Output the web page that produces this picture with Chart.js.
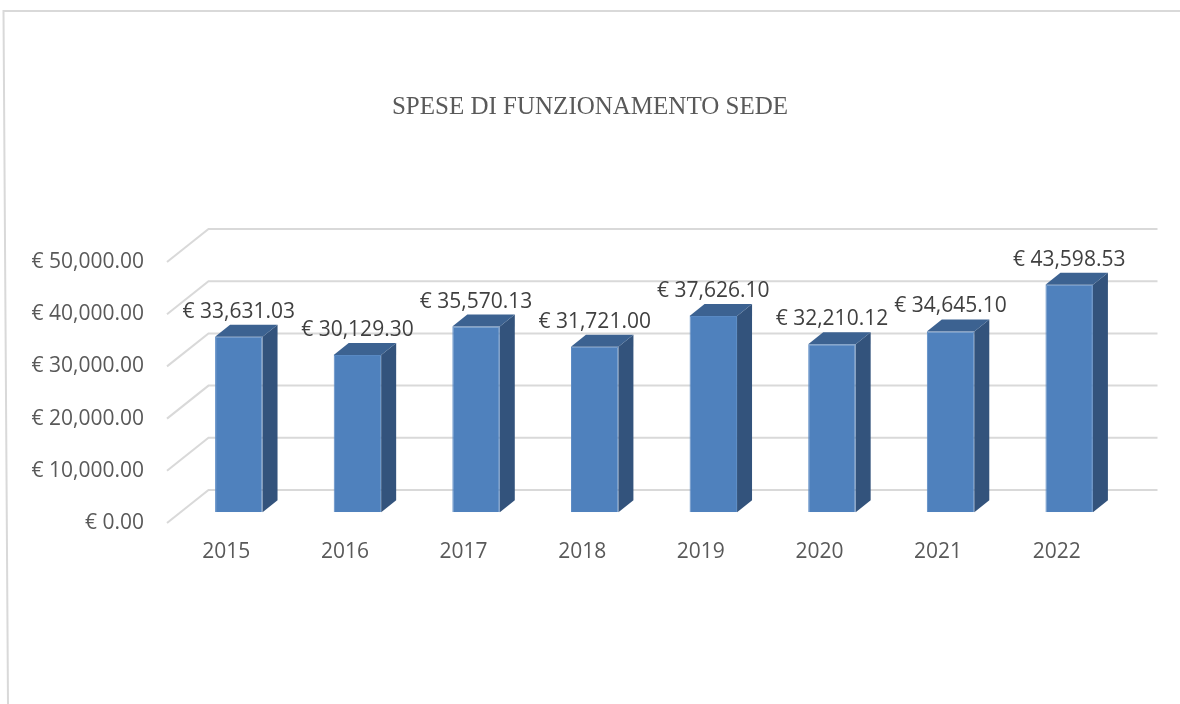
<!DOCTYPE html>
<html>
<head>
<meta charset="utf-8">
<script src="https://cdn.jsdelivr.net/npm/chart.js@4.4.0/dist/chart.umd.min.js"></script>
<style>
  html, body { margin: 0; padding: 0; background: #fff; }
  #wrap { width: 1180px; height: 704px; }
</style>
</head>
<body>
<div id="wrap"><canvas id="myChart" width="1180" height="704"></canvas></div>
<script>
const years = ['2015', '2016', '2017', '2018', '2019', '2020', '2021', '2022'];
const spese = [33631.03, 30129.30, 35570.13, 31721.00, 37626.10, 32210.12, 34645.10, 43598.53];
const yTicksMax = 50000;
const yTickStep = 10000;

const euro = v => '€ ' + Number(v).toLocaleString('en-US', { minimumFractionDigits: 2, maximumFractionDigits: 2 });

// perspective offsets
const wall = { dx: 41.5, dy: -33 };   // floor front edge -> back wall
const shift = { dx: 12.5, dy: -10.7 }; // floor front edge -> bar front face
const depth = { dx: 15, dy: -12 };    // bar thickness

const frame3d = {
  id: 'frame3d',
  beforeDraw(chart) {
    const c = chart.ctx;
    c.save();
    c.fillStyle = '#fff';
    c.fillRect(0, 0, chart.width, chart.height);
    c.strokeStyle = '#d9d9d9';
    c.lineWidth = 2;
    c.beginPath();
    c.moveTo(1180, 11);
    c.lineTo(3.5, 11);
    c.lineTo(8, 704);
    c.stroke();
    c.restore();
  },
  beforeDatasetsDraw(chart) {
    const c = chart.ctx;
    const y = chart.scales.y;
    const a = chart.chartArea;
    c.save();
    c.strokeStyle = '#d9d9d9';
    c.lineWidth = 2;
    y.ticks.forEach(t => {
      const py = y.getPixelForValue(t.value);
      c.beginPath();
      c.moveTo(a.left, py);
      c.lineTo(a.left + wall.dx, py + wall.dy);
      c.lineTo(a.right + wall.dx, py + wall.dy);
      c.stroke();
    });
    c.restore();
    c.save();
    c.translate(shift.dx, shift.dy);
  },
  afterDatasetsDraw(chart) {
    const c = chart.ctx;
    const meta = chart.getDatasetMeta(0);
    meta.data.forEach(bar => {
      const p = bar.getProps(['x', 'y', 'base', 'width'], true);
      const xl = p.x - p.width / 2, xr = p.x + p.width / 2;
      // side
      c.fillStyle = '#33537c';
      c.beginPath();
      c.moveTo(xr, p.y);
      c.lineTo(xr + depth.dx, p.y + depth.dy);
      c.lineTo(xr + depth.dx, p.base + depth.dy);
      c.lineTo(xr, p.base);
      c.closePath();
      c.fill();
      // top
      c.fillStyle = '#3c6291';
      c.beginPath();
      c.moveTo(xl, p.y);
      c.lineTo(xl + depth.dx, p.y + depth.dy);
      c.lineTo(xr + depth.dx, p.y + depth.dy);
      c.lineTo(xr, p.y);
      c.closePath();
      c.fill();
    });
    c.restore();
    // data labels
    c.save();
    c.font = '21px "Open Sans"';
    c.fillStyle = '#404040';
    c.textAlign = 'center';
    c.textBaseline = 'middle';
    meta.data.forEach((bar, i) => {
      c.fillText(euro(spese[i]), bar.x + shift.dx, bar.y + shift.dy - 25);
    });
    c.restore();
  }
};

new Chart(document.getElementById('myChart'), {
  type: 'bar',
  data: {
    labels: years,
    datasets: [{
      label: 'Spese di funzionamento sede',
      data: spese,
      backgroundColor: '#4f81bd',
      borderColor: '#5989c3',
      borderWidth: 1,
      categoryPercentage: 1,
      barPercentage: 0.4
    }]
  },
  options: {
    responsive: false,
    animation: false,
    layout: { padding: 0 },
    plugins: {
      legend: { display: false },
      tooltip: { enabled: false },
      title: {
        display: true,
        text: 'SPESE DI FUNZIONAMENTO SEDE',
        color: '#595959',
        font: { family: '"Liberation Serif"', size: 25, weight: 'normal' },
        padding: { top: 92, bottom: 140 }
      }
    },
    scales: {
      x: {
        grid: { display: false, drawTicks: false },
        border: { display: false },
        ticks: { color: '#595959', font: { family: '"Open Sans"', size: 21 }, padding: 16 },
        afterFit: s => { s.height = 181; }
      },
      y: {
        min: 0,
        max: yTicksMax,
        grid: { display: false, drawTicks: false },
        border: { display: false },
        ticks: {
          stepSize: yTickStep,
          color: '#595959',
          font: { family: '"Open Sans"', size: 21 },
          padding: 23,
          callback: v => euro(v)
        },
        afterFit: s => { s.width = 167; }
      },
      yRight: {
        position: 'right',
        display: true,
        grid: { display: false, drawTicks: false },
        border: { display: false },
        ticks: { display: false },
        afterFit: s => { s.width = 64; }
      }
    }
  },
  plugins: [frame3d]
});
</script>
</body>
</html>
